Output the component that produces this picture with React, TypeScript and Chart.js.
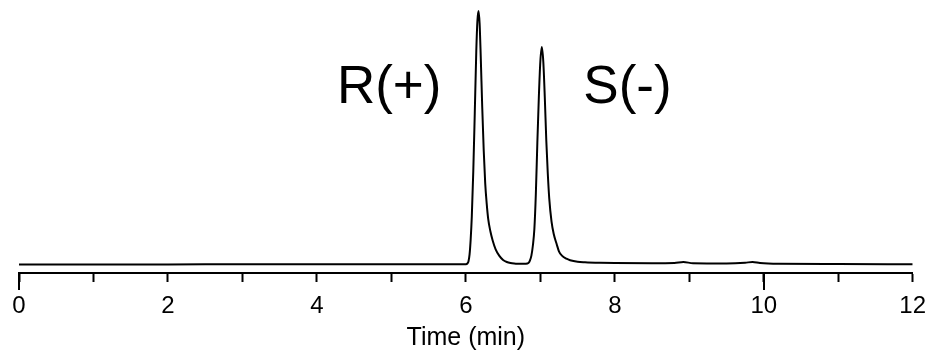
import React, { useEffect, useRef } from "react";
import { Chart, registerables } from "chart.js";

Chart.register(...registerables);

// Retention time (min)
const times = [
  0, 0.5, 1, 2, 3, 4, 5, 5.5, 5.9, 6.0,
  6.02, 6.035, 6.05, 6.065, 6.08, 6.1, 6.12, 6.14, 6.155, 6.17,
  6.185, 6.2, 6.22, 6.24, 6.26, 6.28, 6.3, 6.33, 6.36, 6.4,
  6.45, 6.5, 6.55, 6.6, 6.65, 6.7, 6.75, 6.8,
  6.84, 6.86, 6.88, 6.9, 6.92, 6.94, 6.96, 6.98, 7.0, 7.02,
  7.04, 7.06, 7.08, 7.1, 7.12, 7.15, 7.18, 7.22, 7.25, 7.29,
  7.35, 7.4, 7.5, 7.6, 7.8, 8.0, 8.5, 8.8, 8.92, 9.05,
  9.5, 9.75, 9.85, 9.95, 10.2, 11, 12,
];
// Detector signal (arbitrary units)
const signal = [
  0, 0, 0.05, 0.05, 0.1, 0.1, 0.1, 0.1, 0.1, 0.15,
  0.4, 1.2, 4, 10, 19, 37, 60, 84, 96, 100,
  95, 82, 62, 45, 32, 24, 18, 13, 9.5, 6,
  3.4, 1.8, 1.0, 0.6, 0.4, 0.3, 0.25, 0.3,
  0.6, 1.5, 3.5, 7.5, 14, 28, 48, 66, 80, 85.8,
  80, 66, 49, 36, 26, 17, 12, 8, 5.2, 3.5,
  2.3, 1.7, 1.1, 0.9, 0.7, 0.6, 0.5, 0.6, 1.0, 0.5,
  0.4, 0.7, 1.0, 0.6, 0.3, 0.2, 0.1,
];

// Peak annotations
const peakLabels = ["R(+)", "S(-)"];
const peakLabelTimes = [4.97, 8.17];
const peakLabelValues = [63.6, 63.6];

// Axis
const xTickValues = [0, 1, 2, 3, 4, 5, 6, 7, 8, 9, 10, 11, 12];
const xLabeledTicks = [0, 2, 4, 6, 8, 10, 12];
const longTickValues = [0, 10];
const xTitle = "Time (min)";

const FONT = "'Liberation Sans', Arial, Helvetica, sans-serif";

export default function App() {
  const ref = useRef<HTMLCanvasElement | null>(null);

  useEffect(() => {
    if (!ref.current) return;

    const annotations = {
      id: "annotations",
      afterDraw(chart: any) {
        const { ctx, scales } = chart;
        const xs = scales.x;
        const ys = scales.y;
        ctx.save();
        // long ticks
        ctx.strokeStyle = "#000";
        ctx.lineWidth = 2;
        const bottom = chart.chartArea.bottom;
        longTickValues.forEach((v) => {
          const px = Math.round(xs.getPixelForValue(v));
          ctx.beginPath();
          ctx.moveTo(px, bottom);
          ctx.lineTo(px, bottom + 17);
          ctx.stroke();
        });
        // peak labels
        ctx.fillStyle = "#000";
        ctx.font = `53px ${FONT}`;
        ctx.textAlign = "center";
        ctx.textBaseline = "alphabetic";
        peakLabels.forEach((t, i) => {
          ctx.fillText(
            t,
            xs.getPixelForValue(peakLabelTimes[i]),
            ys.getPixelForValue(peakLabelValues[i])
          );
        });
        ctx.restore();
      },
    };

    const chart = new Chart(ref.current, {
      type: "line",
      data: {
        datasets: [
          {
            data: times.map((t, i) => ({ x: t, y: signal[i] })),
            borderColor: "#000",
            borderWidth: 2,
            pointRadius: 0,
            fill: false,
            cubicInterpolationMode: "monotone",
          },
        ],
      },
      options: {
        responsive: false,
        animation: false,
        layout: { padding: { left: 19, right: 15.3, top: 0, bottom: 0 } },
        plugins: {
          legend: { display: false },
          tooltip: { enabled: false },
        },
        scales: {
          x: {
            type: "linear",
            min: 0,
            max: 12,
            afterBuildTicks: (scale: any) => {
              scale.ticks = xTickValues.map((v) => ({ value: v }));
            },
            afterFit: (scale: any) => {
              scale.height = 80;
              scale.paddingLeft = 0;
              scale.paddingRight = 0;
            },
            ticks: {
              autoSkip: false,
              maxRotation: 0,
              padding: 9.6,
              color: "#000",
              font: { family: FONT, size: 24 },
              callback: (v: any) =>
                xLabeledTicks.includes(Number(v)) ? String(v) : "",
            },
            grid: {
              display: true,
              drawOnChartArea: false,
              drawTicks: true,
              tickLength: 9,
              tickWidth: 2,
              tickColor: "#000",
            },
            border: { display: true, color: "#000", width: 2 },
            title: {
              display: true,
              text: xTitle,
              color: "#000",
              font: { family: FONT, size: 25 },
              padding: { top: 0, bottom: 0 },
            },
          },
          y: {
            display: false,
            min: -3.35,
            max: 104.34,
          },
        },
      },
      plugins: [annotations],
    });

    return () => chart.destroy();
  }, []);

  return (
    <div style={{ position: "absolute", left: 0, top: 0, width: 928, height: 353, background: "#fff" }}>
      <canvas ref={ref} width={928} height={353} style={{ display: "block" }} />
    </div>
  );
}
